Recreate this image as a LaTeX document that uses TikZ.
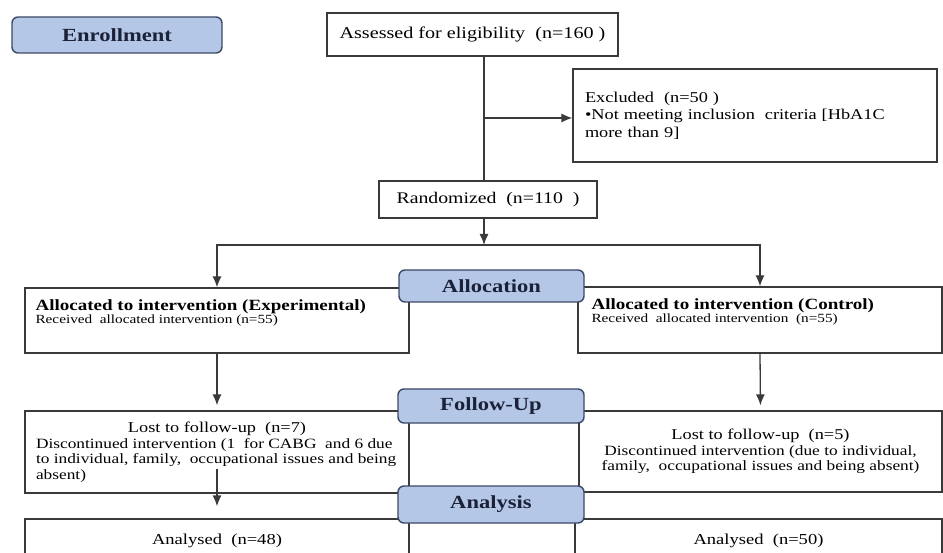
\documentclass[tikz,border=0pt]{standalone}
\usepackage{fontspec}
\setmainfont{Liberation Serif}[FakeStretch=1.22]
\usepackage{xcolor}
\usetikzlibrary{arrows.meta}

\definecolor{stagefill}{HTML}{B4C7E7}
\definecolor{stageline}{HTML}{3B4A66}
\definecolor{stagetext}{HTML}{1B2238}
\definecolor{boxline}{HTML}{3A3A3A}

\newcommand{\fsz}[2]{\fontsize{#1}{#2}\selectfont}

\tikzset{
  box/.style={draw=boxline, line width=1.3pt, fill=white, inner sep=0pt},
  stage/.style={draw=stageline, fill=stagefill, line width=1.4pt, rounded corners=6pt,
    text=stagetext, font=\fsz{18.5}{20}\bfseries},
  arr/.style={-{Latex[length=11pt,width=9pt]}, line width=1.3pt, draw=boxline},
}

\begin{document}
\begin{tikzpicture}[x=1pt, y=-1pt]
    \useasboundingbox (0,0) rectangle (943,553);
    \clip (0,0) rectangle (943,553);

    % enrollment
    \node[box, minimum width=291, minimum height=43, font=\fsz{16.5}{19}] (assessed) at (472.5,34.5)
        {Assessed for eligibility\ \ (n=160 )};
    \node[box, minimum width=364, minimum height=93, text width=340, align=left, font=\fsz{15}{17.5}] (excluded) at (755,115.5)
        {Excluded\ \ (n=50 )\\ \textbullet Not meeting inclusion\ \ criteria [HbA1C\\ more than 9]};
    \node[box, minimum width=218, minimum height=37, font=\fsz{16.2}{19}] (rand) at (488,199.5)
        {Randomized\ \ (n=110\ \ )};

    \coordinate (trunk) at (484,0);
    \coordinate (branch) at (484,118);
    \coordinate (split) at (484,245);

    % allocation
    \node[box, minimum width=384, minimum height=65] (allocL) at (217,320.5) {};
    \node[box, minimum width=364, minimum height=66] (allocR) at (760,320) {};
    \node[anchor=north west, align=left, inner sep=0pt, font=\fsz{12.5}{11}] (allocLtxt)
        at ([shift={(11,12)}]allocL.north west)
        {{\fsz{15.6}{17}\bfseries Allocated to intervention (Experimental)}\\ Received\ \ allocated intervention (n=55)};
    \node[anchor=north west, align=left, inner sep=0pt, font=\fsz{12.5}{11}] (allocRtxt)
        at ([shift={(14,12)}]allocR.north west)
        {{\fsz{15.6}{17}\bfseries Allocated to intervention (Control)}\\ Received\ \ allocated intervention\ \ (n=55)};

    % follow-up
    \node[box, minimum width=384, minimum height=82, align=center, font=\fsz{14.2}{15.5}] (lostL) at (217,452)
        {{\fsz{15}{16}Lost to follow-up\ \ (n=7)}\\
         \parbox[t]{362pt}{\raggedright Discontinued intervention (1\ \ for CABG\ \ and 6 due\\
         to individual, family,\ \ occupational issues and being\\ absent)}};
    \node[box, minimum width=363, minimum height=81, align=center, font=\fsz{14.2}{15.5}] (lostR) at (760.5,451.5)
        {{\fsz{15}{16}Lost to follow-up\ \ (n=5)}\\
         Discontinued intervention (due to individual,\\
         family,\ \ occupational issues and being absent)};

    % analysis
    \node[box, minimum width=384, minimum height=44, font=\fsz{15.2}{17}] (anaL) at (217,541) {Analysed\ \ (n=48)};
    \node[box, minimum width=367, minimum height=44, font=\fsz{15.2}{17}] (anaR) at (758.5,541) {Analysed\ \ (n=50)};

    % connectors
    \draw[boxline, line width=1.3pt] (assessed.south -| trunk) -- (rand.north -| trunk);
    \draw[arr] (branch) -- (branch -| excluded.west);
    \draw[arr] (rand.south -| split) -- (split);
    \draw[arr] (split) -| (allocL.north);
    \draw[arr] (split) -| (allocR.north);
    \draw[arr, shorten >=5pt] (allocL.south) -- (lostL.north);
    \draw[arr, shorten >=5pt] (allocR.south) -- (lostR.north);
    \draw[arr, shorten <=-25pt, shorten >=12pt] (lostL.south) -- (anaL.north);

    % stage labels
    \node[stage, minimum width=210, minimum height=36] (enroll) at (117,35) {Enrollment};
    \node[stage, minimum width=185, minimum height=32] (allocation) at (491.5,286) {Allocation};
    \node[stage, minimum width=186, minimum height=34] (followup) at (491,406) {Follow-Up};
    \node[stage, minimum width=186, minimum height=37] (analysis) at (491,504.5) {Analysis};
\end{tikzpicture}
\end{document}
